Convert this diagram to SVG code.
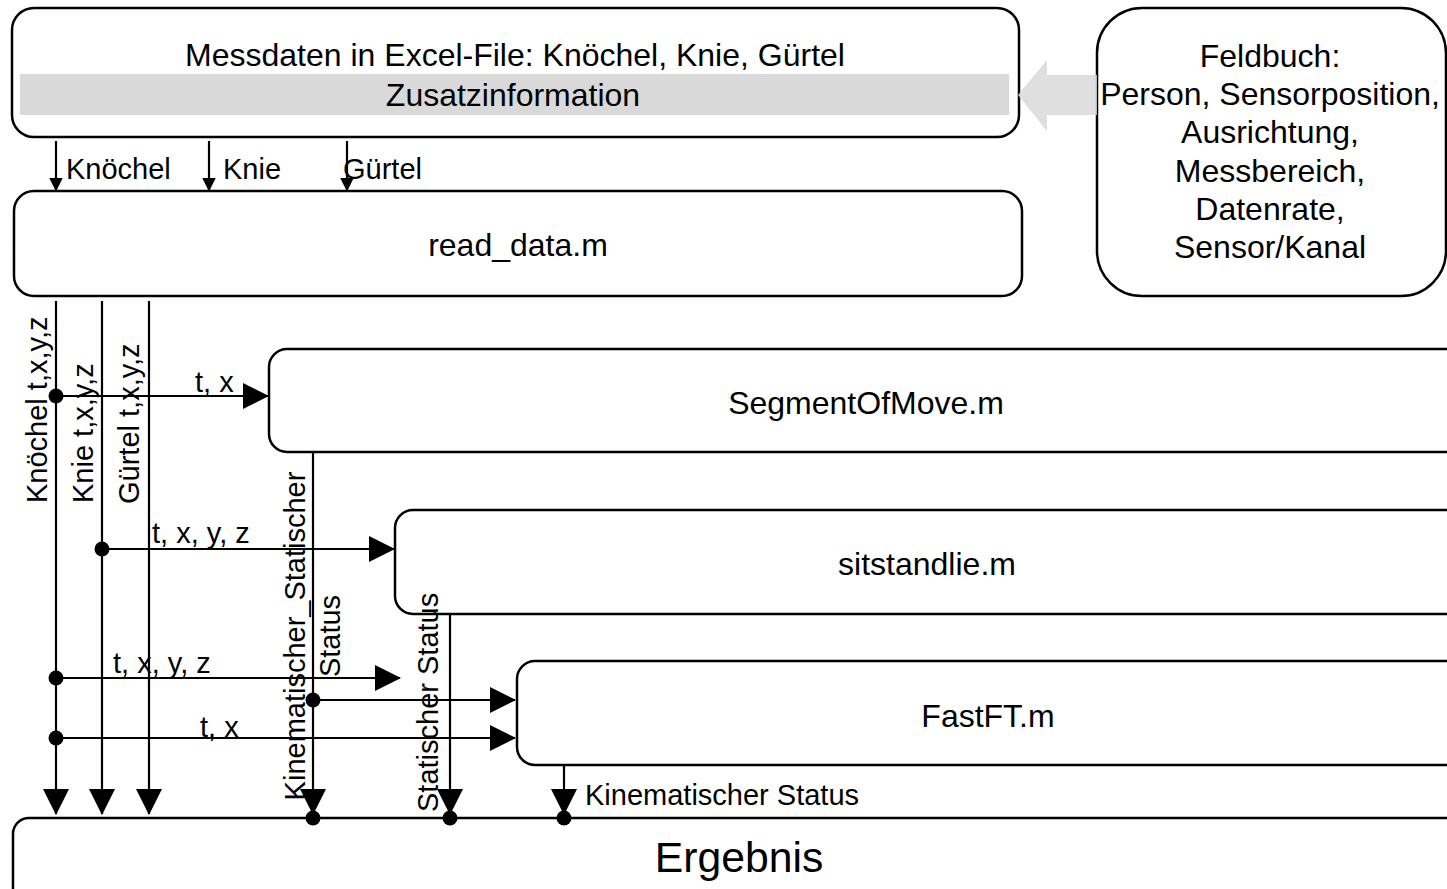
<svg xmlns="http://www.w3.org/2000/svg" width="1447" height="889" viewBox="0 0 1447 889">
<style>
text{font-family:"Liberation Sans",Arial,sans-serif;fill:#000}
.n{font-size:32px;text-anchor:middle}
.l{font-size:29px}
.box{fill:#fff;stroke:#000;stroke-width:2.5}
.c{stroke:#000;stroke-width:2.2;fill:none}
.big{marker-end:url(#ab)}
.sm{marker-end:url(#as)}
.dot{fill:#000}
</style>
<defs>
<marker id="ab" viewBox="0 0 26 26" markerWidth="26" markerHeight="26" refX="25" refY="13" orient="auto" markerUnits="userSpaceOnUse">
<path d="M0,0L26,13L0,26z" fill="#000"/>
</marker>
<marker id="as" viewBox="0 0 14 14" markerWidth="14" markerHeight="14" refX="13.5" refY="7" orient="auto" markerUnits="userSpaceOnUse">
<path d="M0,0L14,7L0,14z" fill="#000"/>
</marker>
</defs>
<rect width="1447" height="889" fill="#fff"/>

<g id="messdaten">
<rect class="box" x="12" y="8" width="1007" height="129" rx="22"/>
<rect x="20" y="74" width="989" height="41" fill="#d9d9d9"/>
<text class="n" x="515" y="66">Messdaten in Excel-File: Knöchel, Knie, Gürtel</text>
<text class="n" x="513" y="106">Zusatzinformation</text>
</g>

<g id="feldbuch">
<rect class="box" x="1097" y="8" width="349" height="288" rx="45"/>
<text class="n" x="1270" y="67">Feldbuch:</text>
<text class="n" x="1270" y="105">Person, Sensorposition,</text>
<text class="n" x="1270" y="143">Ausrichtung,</text>
<text class="n" x="1270" y="182">Messbereich,</text>
<text class="n" x="1270" y="220">Datenrate,</text>
<text class="n" x="1270" y="258">Sensor/Kanal</text>
</g>

<g id="zusatz-arrow">
<polygon points="1097,75 1047,75 1047,60 1018,95 1047,131 1047,115 1097,115" fill="#d9d9d9" fill-opacity="0.85"/>
</g>

<g id="read_data">
<rect class="box" x="14" y="191" width="1008" height="105" rx="20"/>
<text class="n" x="518" y="256">read_data.m</text>
</g>

<g id="segmentofmove">
<rect class="box" x="269" y="349" width="1220" height="103" rx="18"/>
<text class="n" x="866" y="414">SegmentOfMove.m</text>
</g>

<g id="sitstandlie">
<rect class="box" x="395" y="510" width="1100" height="104" rx="18"/>
<text class="n" x="927" y="575">sitstandlie.m</text>
</g>

<g id="fastft">
<rect class="box" x="517" y="661" width="980" height="104" rx="18"/>
<text class="n" x="988" y="727">FastFT.m</text>
</g>

<g id="ergebnis">
<rect class="box" x="13" y="818" width="1500" height="120" rx="16"/>
<text x="739" y="872" style="font-size:42.7px;text-anchor:middle">Ergebnis</text>
</g>

<g id="connectors">
<line class="c sm" x1="56" y1="141" x2="56" y2="191"/>
<line class="c sm" x1="209" y1="141" x2="209" y2="191"/>
<line class="c sm" x1="347" y1="141" x2="347" y2="191"/>

<line class="c big" x1="56" y1="301" x2="56" y2="814"/>
<line class="c big" x1="102" y1="301" x2="102" y2="814"/>
<line class="c big" x1="149" y1="301" x2="149" y2="814"/>

<line class="c big" x1="56" y1="396" x2="268" y2="396"/>
<line class="c big" x1="102" y1="549" x2="394" y2="549"/>
<line class="c big" x1="56" y1="678" x2="400" y2="678"/>
<line class="c big" x1="313" y1="700" x2="515" y2="700"/>
<line class="c big" x1="56" y1="738" x2="515" y2="738"/>

<line class="c big" x1="313" y1="452" x2="313" y2="814"/>
<line class="c big" x1="450" y1="614" x2="450" y2="814"/>
<line class="c big" x1="564" y1="765" x2="564" y2="814"/>

<circle class="dot" cx="56" cy="396" r="7.5"/>
<circle class="dot" cx="102" cy="549" r="7.5"/>
<circle class="dot" cx="56" cy="678" r="7.5"/>
<circle class="dot" cx="313" cy="700" r="7.5"/>
<circle class="dot" cx="56" cy="738" r="7.5"/>
<circle class="dot" cx="313" cy="818" r="7.5"/>
<circle class="dot" cx="450" cy="818" r="7.5"/>
<circle class="dot" cx="564" cy="818" r="7.5"/>

<text class="l" x="66" y="179">Knöchel</text>
<text class="l" x="223" y="179">Knie</text>
<text class="l" x="343" y="179">Gürtel</text>

<text class="l" transform="translate(47,503) rotate(-90)">Knöchel t,x,y,z</text>
<text class="l" transform="translate(93,503) rotate(-90)">Knie t,x,y,z</text>
<text class="l" transform="translate(139,504) rotate(-90)">Gürtel t,x,y,z</text>

<text class="l" x="195" y="392">t, x</text>
<text class="l" x="152" y="543">t, x, y, z</text>
<text class="l" x="113" y="673">t, x, y, z</text>
<text class="l" x="200" y="737">t, x</text>

<text class="l" transform="translate(305,636) rotate(-90)" text-anchor="middle">Kinematischer_Statischer<tspan x="0" dy="35">Status</tspan></text>
<text class="l" transform="translate(438,812) rotate(-90)">Statischer Status</text>
<text class="l" x="585" y="805">Kinematischer Status</text>
</g>
</svg>
